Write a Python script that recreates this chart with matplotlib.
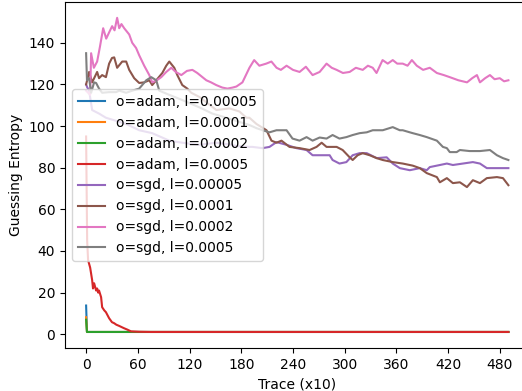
import numpy as np
import matplotlib
matplotlib.use('Agg')
import matplotlib.pyplot as plt

# values (x in traces/10, y = guessing entropy)
x_end = 490

adam_5e5_x = [0, 1, x_end]
adam_5e5_y = [13.8, 1.1, 1.1]
adam_1e4_x = [0, 1, x_end]
adam_1e4_y = [8.2, 1.1, 1.1]
adam_2e4_x = [0, 1, x_end]
adam_2e4_y = [7.0, 1.1, 1.1]
adam_5e4_x = [0, 1.2, 2.3, 4.7, 7, 8, 9.3, 11.6, 12.8, 14, 15, 17.4, 18.6, 21, 23, 26.7,
              30, 32.6, 35, 38.4, 44, 48, 52, 61.6, 75, x_end]
adam_5e4_y = [95, 45, 35.6, 32, 26, 22, 24.5, 21, 22, 20, 21, 17.8, 13, 11.5, 10.6, 7.7,
              5.8, 5.3, 4.6, 4.0, 2.9, 2.2, 1.4, 1.2, 1.1, 1.1]

sgd_5e5_x = [0, 1.2, 3.5, 7, 15, 23, 35, 46.5, 61.6, 76.7, 96.5, 111.6, 131.4, 151, 170,
             174.4, 189.5, 193, 204.7, 212.8, 220.9, 232.6, 244, 255.8, 262.8, 274.4,
             282.6, 286, 294, 302, 309.3, 317.4, 325.6, 337.2, 348.8, 355.8, 364, 375.6,
             387.2, 395.3, 398.8, 410.5, 418.6, 425.6, 437.2, 448.8, 457, 465, 476.7, x_end]
sgd_5e5_y = [120, 118.7, 117, 107.7, 106, 104, 102.5, 101, 98, 96.6, 93, 92, 91, 92, 91,
             90.4, 90, 90, 89.4, 90, 92.3, 91, 89.4, 88.5, 86, 86,
             86, 83.7, 82, 82.7, 86, 87, 87, 84.6, 85, 82, 79.8, 78.8,
             79.8, 78.8, 80.3, 81.3, 82, 81.3, 82, 82.7, 82, 79.8, 79.8, 79.8]

sgd_1e4_x = [0, 3.5, 7, 12.8, 15, 18.6, 23, 26.7, 30, 32.6, 36, 41.9, 46.5, 50, 55.8, 61.6,
             67.4, 73.3, 76.7, 81.4, 88.4, 93, 96.5, 102.3, 105.8, 111.6, 117.4, 122, 131.4,
             151.2, 166.3, 177.9, 186, 189.5, 197.7, 209.3, 215.1, 220.9, 226.7, 236, 247.7,
             259.3, 267.4, 273.3, 279, 290.7, 297.7, 305.8, 309.3, 315.1, 320.9, 329, 337.2,
             344.2, 355.8, 367.4, 379, 387.2, 395.3, 407, 410.5, 418.6, 425.6, 433.7, 441.9,
             448.8, 457, 465, 476.7, 483.7, x_end]
sgd_1e4_y = [120, 126, 121, 126, 123, 124.5, 123.5, 130, 132.7, 133, 128, 131, 131, 127, 123, 120.7,
             121, 122, 119.7, 122, 125.5, 129, 131, 128, 124.5, 119.7, 118, 116, 114,
             107.7, 108.5, 107, 104, 104, 101, 98, 93, 92, 93, 90, 89.4,
             88.5, 90, 92, 90, 90, 88.5, 85, 83.7, 86, 87, 86, 84.6,
             83.7, 82.7, 82, 81, 79.8, 77.4, 75.5, 73, 75, 72.6, 73, 70.7,
             74, 72.6, 75, 75.5, 75, 71.6]

sgd_2e4_x = [0, 4.7, 5.8, 9, 12.8, 16, 19.8, 23.3, 26.7, 30.2, 33, 36, 38.4, 41, 44.2, 50,
             53.5, 58, 61.6, 67.4, 73.3, 76.7, 82, 87.2, 93, 98.8, 104, 110.5, 117, 123.3, 129,
             139.5, 145, 151, 158, 164, 170, 174.4, 181.4, 189.5, 195, 201, 209, 215, 221,
             226, 232.6, 240, 247.7, 255, 262.8, 271, 279, 285, 290.7, 298, 305.8, 313, 321,
             327, 332.6, 337, 344, 350, 355.8, 361, 367.4, 373, 378, 383.7, 391, 398.8, 407,
             415, 422, 432, 442, 448, 453.5, 457, 463, 468.6, 474, 480, 485, x_end]
sgd_2e4_y = [117, 115, 135, 128, 131, 138, 147, 142, 145, 148, 146, 152, 147, 149, 147, 144,
             140, 137.5, 134, 129, 124.5, 121, 122, 123.5, 126, 128, 126, 124.5, 126.5, 127, 125.5,
             122, 121, 119.7, 118.5, 118, 118.5, 119, 121, 128, 131.7, 129, 130, 131, 128,
             127, 129, 127, 126, 128.5, 124.5, 126, 130, 128, 127, 125.5, 126, 128, 127,
             129, 128, 125.5, 131.7, 130, 131.7, 130, 130, 129, 131.7, 129, 127, 128, 125.5,
             124.5, 123.5, 122, 121, 123, 124.5, 121, 123, 124.5, 122.5, 123, 121.5, 122]

sgd_5e4_x = [0, 1, 3.5, 5.8, 9.3, 11.6, 15, 18.6, 26.7, 34.9, 38.4, 46.5, 53.5, 61.6, 69.8,
             75.6, 81.4, 84.9, 96.5, 111.6, 131.4, 146.5, 162.8, 178, 189.5, 197.7, 204.7,
             212.8, 220.9, 232.6, 239.5, 247.7, 255.8, 262.8, 271, 279, 286, 294, 302, 309.3,
             317.4, 325.6, 332.6, 344.2, 355.8, 364, 367.4, 375.6, 379, 387.2, 395.3, 407,
             414, 418.6, 422, 430, 433.7, 445, 457, 468.6, 476.7, 483.7, x_end]
sgd_5e4_y = [135, 122, 123, 116, 121, 120.7, 118, 116, 116.3, 116.3, 117, 116, 117, 118, 122,
             123.5, 122, 117, 115, 112.5, 109, 106, 104, 102, 100.5, 99, 98,
             97, 98, 98, 94, 93, 94.7, 93, 94.5, 94, 95.7, 94, 94.7, 95.7,
             96.6, 97, 98, 98, 99.5, 98, 98, 97, 96.6, 95.7, 94.7, 93,
             90, 89.4, 87.5, 87.5, 88.5, 88, 88, 88.5, 86, 84.6, 83.7]

series = [
    (adam_5e5_x, adam_5e5_y, 'o=adam, l=0.00005'),
    (adam_1e4_x, adam_1e4_y, 'o=adam, l=0.0001'),
    (adam_2e4_x, adam_2e4_y, 'o=adam, l=0.0002'),
    (adam_5e4_x, adam_5e4_y, 'o=adam, l=0.0005'),
    (sgd_5e5_x, sgd_5e5_y, 'o=sgd, l=0.00005'),
    (sgd_1e4_x, sgd_1e4_y, 'o=sgd, l=0.0001'),
    (sgd_2e4_x, sgd_2e4_y, 'o=sgd, l=0.0002'),
    (sgd_5e4_x, sgd_5e4_y, 'o=sgd, l=0.0005'),
]

fig = plt.figure(figsize=(5.22, 3.91), dpi=100)
# axes runs past the right edge, like the cropped original
ax = fig.add_axes([65 / 522, 43 / 391, (529.5 - 65) / 522, 346 / 391])

for xs, ys, lab in series:
    ax.plot(xs, ys, label=lab)

ax.set_xlim(-24.5, 514.5)
ax.set_ylim(-6.6, 159.6)
ax.set_xticks(np.arange(0, 481, 60))
ax.set_yticks(np.arange(0, 141, 20))
ax.set_xlabel('Trace (x10)')
ax.set_ylabel('Guessing Entropy')
ax.legend(loc='center left')

fig.savefig('out.png', dpi=100)
